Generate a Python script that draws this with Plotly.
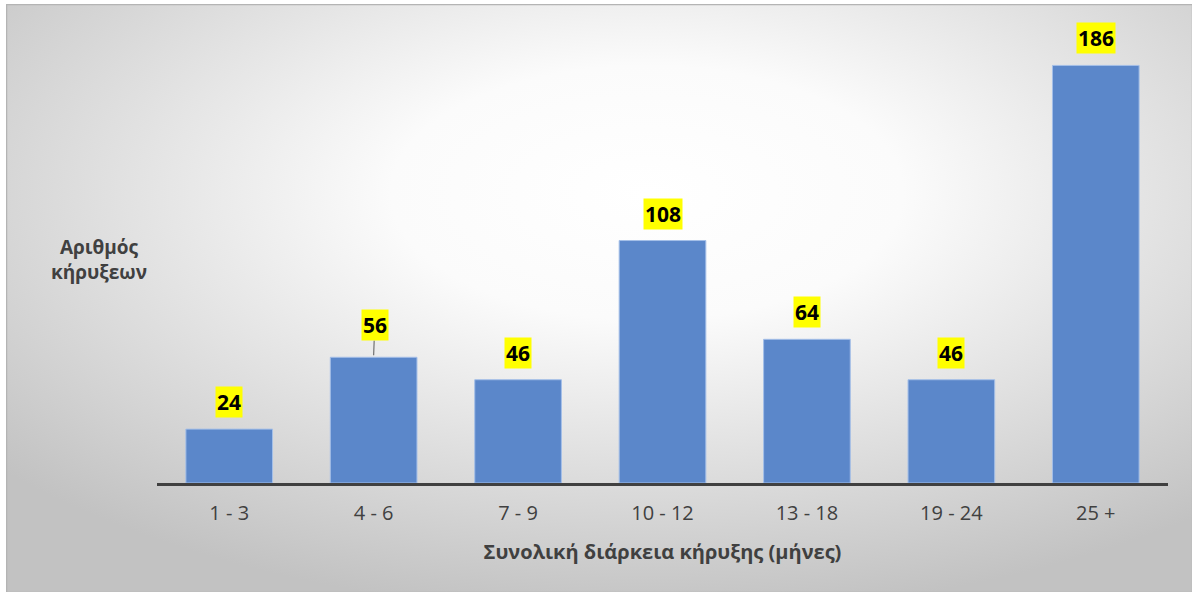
import base64

import plotly.graph_objects as go

durations = ['1 - 3', '4 - 6', '7 - 9', '10 - 12', '13 - 18', '19 - 24', '25 +']
announcements = [24, 56, 46, 108, 64, 46, 186]

WIDTH, HEIGHT = 1192, 592
MARGIN = dict(l=157, r=24, t=34, b=109)
TEXT_COLOR = '#404040'
FONT = 'Open Sans'


def background_svg() -> str:
    # radial grey -> white gradient, like the office slide background
    svg = """<svg xmlns="http://www.w3.org/2000/svg" width="1186" height="588" viewBox="0 0 1186 588" preserveAspectRatio="none">
<defs><radialGradient id="g" cx="0.54" cy="0.32" r="0.72">
<stop offset="0" stop-color="#ffffff"/>
<stop offset="0.3" stop-color="#fbfbfb"/>
<stop offset="1" stop-color="#c2c2c2"/>
</radialGradient></defs>
<rect x="0.5" y="0.5" width="1186" height="588" fill="url(#g)" stroke="#b4b4b4" stroke-width="1.5"/>
</svg>"""
    return 'data:image/svg+xml;base64,' + base64.b64encode(svg.encode()).decode()


def get_plot_durations() -> go.Figure:
    plot_w = WIDTH - MARGIN['l'] - MARGIN['r']
    plot_h = HEIGHT - MARGIN['t'] - MARGIN['b']

    fig = go.Figure()
    fig.add_trace(go.Bar(
        x=durations, y=announcements,
        width=0.6,
        marker_color='#5B87CA',
        marker_line_color='#A4BFE8',
        marker_line_width=1,
        hoverinfo='x+y',
    ))

    for cat, val in zip(durations, announcements):
        label = dict(
            x=cat, y=val, text=f'<b>{val}</b>',
            font=dict(family=FONT, size=21, color='#000000'),
            bgcolor='#FFFF00', borderpad=1,
            xanchor='center', yanchor='middle',
        )
        if val == 56:
            # this one has a leader line in the original
            label.update(showarrow=True, arrowhead=0, arrowwidth=1,
                         arrowcolor='#595959', ax=1, ay=-32, standoff=2)
        else:
            label.update(showarrow=False, yshift=27)
        fig.add_annotation(**label)

    fig.add_annotation(
        xref='paper', yref='paper',
        x=(99 - MARGIN['l']) / plot_w, y=(plot_h + MARGIN['t'] - 259) / plot_h,
        text='<b>Αριθμός<br>κήρυξεων</b>', showarrow=False,
        xanchor='center', yanchor='middle', align='center',
        font=dict(family=FONT, size=19, color=TEXT_COLOR),
    )

    fig.add_layout_image(
        source=background_svg(), xref='paper', yref='paper',
        x=(6 - MARGIN['l']) / plot_w, y=(plot_h + MARGIN['t'] - 4) / plot_h,
        sizex=(WIDTH - 6) / plot_w, sizey=(HEIGHT - 4) / plot_h,
        xanchor='left', yanchor='top', sizing='stretch', layer='below',
    )

    fig.update_layout(
        width=WIDTH, height=HEIGHT,
        margin=MARGIN,
        paper_bgcolor='#ffffff',
        plot_bgcolor='rgba(0,0,0,0)',
        showlegend=False,
        font_family=FONT,
        font_color=TEXT_COLOR,
    )
    fig.update_xaxes(
        showline=True, linewidth=3, linecolor='#404040',
        ticks='outside', ticklen=10, tickcolor='rgba(0,0,0,0)',
        tickfont=dict(family=FONT, size=20, color=TEXT_COLOR),
        title=dict(text='<b>Συνολική διάρκεια κήρυξης (μήνες)</b>',
                   font=dict(family=FONT, size=20, color=TEXT_COLOR),
                   standoff=20),
        showgrid=False, zeroline=False,
    )
    fig.update_yaxes(
        range=[0, 200], visible=False, showgrid=False, zeroline=False,
    )
    return fig


fig = get_plot_durations()
# page body has an 8px default margin, drop it so the figure sits at 0,0
fig.write_html('out.html', config={'displayModeBar': False},
               post_script="document.body.style.margin='0';")
